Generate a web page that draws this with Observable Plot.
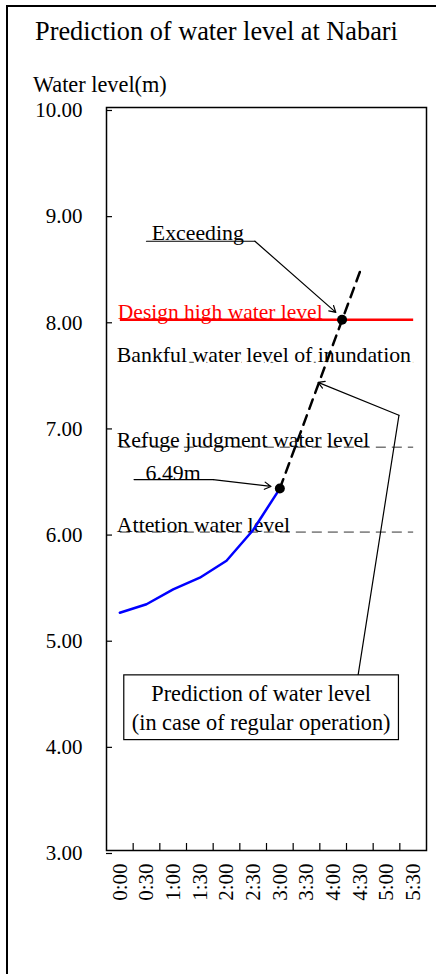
<!DOCTYPE html>
<html><head><meta charset="utf-8">
<script src="https://cdn.jsdelivr.net/npm/d3@7"></script>
<script src="https://cdn.jsdelivr.net/npm/@observablehq/plot@0.6"></script>
<style>
html,body{margin:0;padding:0;background:#fff;overflow:hidden;}
#wrap{position:relative;width:436px;height:974px;overflow:hidden;font-family:"Liberation Serif","Times New Roman",serif;color:#000;}
#outer{position:absolute;left:6px;top:5px;width:600px;height:1200px;border:2px solid #000;box-sizing:border-box;}
#title{position:absolute;left:35px;top:19px;font-size:26.3px;line-height:26.3px;white-space:nowrap;}
#ylabel{position:absolute;left:33px;top:74px;font-size:22.3px;line-height:22.3px;white-space:nowrap;}
#chart{position:absolute;left:0;top:0;}
</style></head>
<body><div id="wrap"><div id="outer"></div><div id="chart"></div><div id="title">Prediction of water level at Nabari</div><div id="ylabel">Water level(m)</div></div>
<script>
// ---- data ----
const timeLabels = ["0:00","0:30","1:00","1:30","2:00","2:30","3:00","3:30","4:00","4:30","5:00","5:30"];
const observedTimes = ["0:00","0:30","1:00","1:30","2:00","2:30","3:00"];
const observedLevels = [5.24, 5.32, 5.46, 5.57, 5.73, 6.02, 6.41];
const predictionTimes = ["3:00","4:30"];
const predictionLevels = [6.41, 8.45];
const exceedTime = "4:10";
const exceedLevel = 8.00;
const refNames = ["Design high water level","Bankful water level of inundation","Refuge judgment water level","Attetion water level"];
const refLevels = [8.00, 7.60, 6.80, 6.00];
const refStart = "0:00", refEnd = "5:30";
const yTicks = [3, 4, 5, 6, 7, 8, 9, 10];
const yDomain = [3, 10];

// annotation anchors (time, level)
const exceedLabel = "Exceeding";
const exceedLeaderTimes = ["0:30","2:32","4:03"];
const exceedLeaderLevels = [8.74, 8.74, 8.07];
const exceedTextTime = "0:36", exceedTextLevel = 8.75;
const peakLabel = "6.49m";
const peakLeaderTimes = ["0:16","1:45","2:50"];
const peakLeaderLevels = [6.495, 6.495, 6.43];
const peakTextTime = "0:29", peakTextLevel = 6.495;
const calloutLines = ["Prediction of water level","(in case of regular operation)"];
const calloutBoxTimes = ["0:05","5:14"];
const calloutBoxLevels = [4.04, 4.65];
const calloutTextTime = "2:39", calloutTextLevel = 4.135;
const calloutLeaderTimes = ["4:28","5:14","3:43"];
const calloutLeaderLevels = [4.65, 7.10, 7.41];

// ---- helpers ----
const toH = s => { const [h, m] = s.split(":").map(Number); return h + m / 60; };
const hours = timeLabels.map(toH);
const boundaries = hours.slice(1).map((h, i) => (h + hours[i]) / 2);
const labelOf = new Map(hours.map((h, i) => [h, timeLabels[i]]));
const observed = observedTimes.map((t, i) => ({x: toH(t), y: observedLevels[i]}));
const prediction = predictionTimes.map((t, i) => ({x: toH(t), y: predictionLevels[i]}));
const refs = refNames.map((n, i) => ({name: n, y: refLevels[i], x1: toH(refStart), x2: toH(refEnd)}));
const seg = (ts, ls) => ts.map((t, i) => ({x: toH(t), y: ls[i]}));
const exceedPts = seg(exceedLeaderTimes, exceedLeaderLevels);
const peakPts = seg(peakLeaderTimes, peakLeaderLevels);
const callPts = seg(calloutLeaderTimes, calloutLeaderLevels);
const arrowOf = pts => [{x1: pts[pts.length - 2].x, y1: pts[pts.length - 2].y, x2: pts[pts.length - 1].x, y2: pts[pts.length - 1].y}];
const font = '"Liberation Serif","Times New Roman",serif';
const dashRef = "10,6";

const chart = Plot.plot({
  width: 436, height: 974,
  marginLeft: 106, marginRight: 10, marginTop: 107, marginBottom: 124,
  style: {fontFamily: font, fontSize: "21px", background: "transparent", color: "#000"},
  x: {domain: [hours[0] - 0.25, hours[hours.length - 1] + 0.25], label: null},
  y: {domain: yDomain, label: null},
  marks: [
    // reference lines
    Plot.link(refs.slice(1), {x1: "x1", x2: "x2", y1: "y", y2: "y", stroke: "#333", strokeWidth: 1, strokeDasharray: dashRef}),
    Plot.link(refs.slice(0, 1), {x1: "x1", x2: "x2", y1: "y", y2: "y", stroke: "#ff0000", strokeWidth: 2.5}),
    Plot.text(refs.slice(1, 2), {x: "x1", y: "y", text: "name", textAnchor: "start", lineAnchor: "bottom", dx: -3, fontSize: 21.8, fill: "#000", stroke: "#fff", strokeWidth: 5, paintOrder: "stroke"}),
    Plot.text(refs.slice(2), {x: "x1", y: "y", text: "name", textAnchor: "start", lineAnchor: "bottom", dx: -3, fontSize: 21.8, fill: "#000"}),
    Plot.text(refs.slice(0, 1), {x: "x1", y: "y", text: "name", textAnchor: "start", lineAnchor: "bottom", dx: -2, dy: -1, fontSize: 21.5, fill: "#ff0000"}),
    // observed and predicted
    Plot.line(observed, {x: "x", y: "y", stroke: "#0000ff", strokeWidth: 2.5}),
    Plot.line(prediction, {x: "x", y: "y", stroke: "#000", strokeWidth: 2.5, strokeDasharray: "10,7"}),
    Plot.dot([observed[observed.length - 1], {x: toH(exceedTime), y: exceedLevel}], {x: "x", y: "y", r: 5, fill: "#000"}),
    // Exceeding annotation
    Plot.line(exceedPts.slice(0, 2), {x: "x", y: "y", stroke: "#000", strokeWidth: 1.2}),
    Plot.arrow(arrowOf(exceedPts), {x1: "x1", y1: "y1", x2: "x2", y2: "y2", stroke: "#000", strokeWidth: 1.2, headLength: 9}),
    Plot.text([exceedLabel], {x: toH(exceedTextTime), y: exceedTextLevel, text: d => d, textAnchor: "start", lineAnchor: "bottom", fontSize: 21.8}),
    // 6.49m annotation
    Plot.line(peakPts.slice(0, 2), {x: "x", y: "y", stroke: "#000", strokeWidth: 1.2}),
    Plot.arrow(arrowOf(peakPts), {x1: "x1", y1: "y1", x2: "x2", y2: "y2", stroke: "#000", strokeWidth: 1.2, headLength: 9}),
    Plot.text([peakLabel], {x: toH(peakTextTime), y: peakTextLevel, text: d => d, textAnchor: "start", lineAnchor: "bottom", fontSize: 21.8}),
    // callout
    Plot.line(callPts.slice(0, 2), {x: "x", y: "y", stroke: "#000", strokeWidth: 1.2}),
    Plot.arrow(arrowOf(callPts), {x1: "x1", y1: "y1", x2: "x2", y2: "y2", stroke: "#000", strokeWidth: 1.2, headLength: 9}),
    Plot.rect([0], {x1: toH(calloutBoxTimes[0]), x2: toH(calloutBoxTimes[1]), y1: calloutBoxLevels[0], y2: calloutBoxLevels[1], fill: "#fff", stroke: "#000", strokeWidth: 1.2}),
    Plot.text([calloutLines.join("\n")], {x: toH(calloutTextTime), y: calloutTextLevel, text: d => d, textAnchor: "middle", lineAnchor: "bottom", lineHeight: 1.29, fontSize: 22.3}),
    // frame and axes
    Plot.frame({stroke: "#000", strokeWidth: 1.5}),
    Plot.axisY({ticks: yTicks, tickFormat: d3.format(".2f"), tickSize: -6, tickPadding: 30, dy: 3, fontSize: 21, strokeWidth: 1.2}),
    Plot.axisX({ticks: boundaries, tickSize: -7, tickFormat: () => "", strokeWidth: 1.2}),
    Plot.axisX({ticks: hours, tickSize: 0, tickPadding: 13, tickRotate: -90, tickFormat: d => labelOf.get(d), fontSize: 21})
  ]
});
document.getElementById("chart").appendChild(chart);
</script>
</body></html>
